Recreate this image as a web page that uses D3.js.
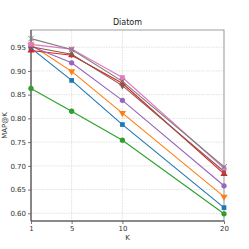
<!DOCTYPE html>
<html>
<head>
<meta charset="utf-8">
<script src="https://cdn.jsdelivr.net/npm/d3@7"></script>
<style>
  body { margin: 0; background: #fff; }
  text { font-family: "DejaVu Sans", sans-serif; }
</style>
</head>
<body>
<div id="chart"></div>
<script>
var w = 249, h = 249;

// data
var kValues = [1, 5, 10, 20];
var seriesNames = ["s1", "s2", "s3", "s4", "s5", "s6", "s7", "s8"];
var seriesColors = ["#1f77b4", "#ff7f0e", "#2ca02c", "#d62728", "#9467bd", "#8c564b", "#e377c2", "#7f7f7f"];
var seriesMarkers = ["square", "triDown", "circle", "triUp", "circle", "diamond", "square", "cross"];
var s1 = [0.948, 0.880, 0.787, 0.612];
var s2 = [0.955, 0.899, 0.811, 0.635];
var s3 = [0.863, 0.815, 0.754, 0.599];
var s4 = [0.943, 0.933, 0.874, 0.683];
var s5 = [0.952, 0.917, 0.838, 0.658];
var s6 = [0.951, 0.935, 0.869, 0.688];
var s7 = [0.956, 0.946, 0.886, 0.695];
var s8 = [0.968, 0.945, 0.878, 0.698];
var allSeries = [s1, s2, s3, s4, s5, s6, s7, s8];
var yTicks = [0.60, 0.65, 0.70, 0.75, 0.80, 0.85, 0.90, 0.95];

var margin = {top: 30, right: 25, bottom: 28, left: 31},
    width = w - margin.left - margin.right,
    height = h - margin.top - margin.bottom;

var svg = d3.select("#chart").append("svg")
    .attr("width", w)
    .attr("height", h);

var x = d3.scaleLinear().domain([1, 20]).range([0, width]);
var y = d3.scaleLinear().domain([0.5838, 0.9862]).range([height, 0]);

var g = svg.append("g")
    .attr("transform", "translate(" + margin.left + "," + margin.top + ")");

// grid
g.selectAll(".gx").data(kValues).enter().append("line")
    .attr("x1", function(d) { return x(d); }).attr("x2", function(d) { return x(d); })
    .attr("y1", 0).attr("y2", height)
    .attr("stroke", "#cfcfcf").attr("stroke-width", 0.6).attr("stroke-dasharray", "1.5,1");
g.selectAll(".gy").data(yTicks).enter().append("line")
    .attr("y1", function(d) { return y(d); }).attr("y2", function(d) { return y(d); })
    .attr("x1", 0).attr("x2", width)
    .attr("stroke", "#cfcfcf").attr("stroke-width", 0.6).attr("stroke-dasharray", "1.5,1");

// axes
var xAxis = g.append("g")
    .attr("transform", "translate(0," + height + ")")
    .call(d3.axisBottom(x).tickValues(kValues).tickSize(3).tickPadding(2));
var yAxis = g.append("g")
    .call(d3.axisLeft(y).tickValues(yTicks).tickFormat(d3.format(".2f")).tickSize(3).tickPadding(2));
[xAxis, yAxis].forEach(function(a) {
  a.select(".domain").remove();
  a.selectAll("line").attr("stroke", "#555").attr("stroke-width", 0.8);
  a.selectAll("text").attr("fill", "#333").style("font-size", "7px");
});

// frame
g.append("rect")
    .attr("width", width).attr("height", height)
    .attr("fill", "none").attr("stroke", "#888").attr("stroke-width", 0.8);
g.append("line").attr("x1", 0).attr("x2", 0).attr("y1", 0).attr("y2", height)
    .attr("stroke", "#444").attr("stroke-width", 1);
g.append("line").attr("x1", 0).attr("x2", width).attr("y1", height).attr("y2", height)
    .attr("stroke", "#444").attr("stroke-width", 1);

var line = d3.line()
    .x(function(d, i) { return x(kValues[i]); })
    .y(function(d) { return y(d); });

var symbolTypes = {
  square: d3.symbolSquare, circle: d3.symbolCircle, diamond: d3.symbolDiamond,
  triUp: d3.symbolTriangle, triDown: d3.symbolTriangle, cross: d3.symbolX
};

allSeries.forEach(function(vals, si) {
  var col = seriesColors[si];
  g.append("path")
      .datum(vals)
      .attr("fill", "none")
      .attr("stroke", col)
      .attr("stroke-width", 1.1)
      .attr("d", line);
  var m = seriesMarkers[si];
  var sym = d3.symbol().type(symbolTypes[m]).size(m === "diamond" ? 18 : 22);
  g.selectAll(".m" + si).data(vals).enter().append("path")
      .attr("d", sym)
      .attr("transform", function(d, i) {
        return "translate(" + x(kValues[i]) + "," + y(d) + ")" + (m === "triDown" ? " rotate(180)" : "");
      })
      .attr("fill", col)
      .attr("stroke", m === "cross" ? col : "none")
      .attr("stroke-width", 1);
});

// labels
svg.append("text")
    .attr("x", margin.left + width / 2).attr("y", 25)
    .attr("text-anchor", "middle").style("font-size", "8px").attr("fill", "#222")
    .text("Diatom");
svg.append("text")
    .attr("x", margin.left + width / 2).attr("y", 240)
    .attr("text-anchor", "middle").style("font-size", "7px").attr("fill", "#333")
    .text("K");
svg.append("text")
    .attr("transform", "translate(7," + (margin.top + height / 2) + ") rotate(-90)")
    .attr("text-anchor", "middle").style("font-size", "7px").attr("fill", "#333")
    .text("MAP@K");
</script>
</body>
</html>
